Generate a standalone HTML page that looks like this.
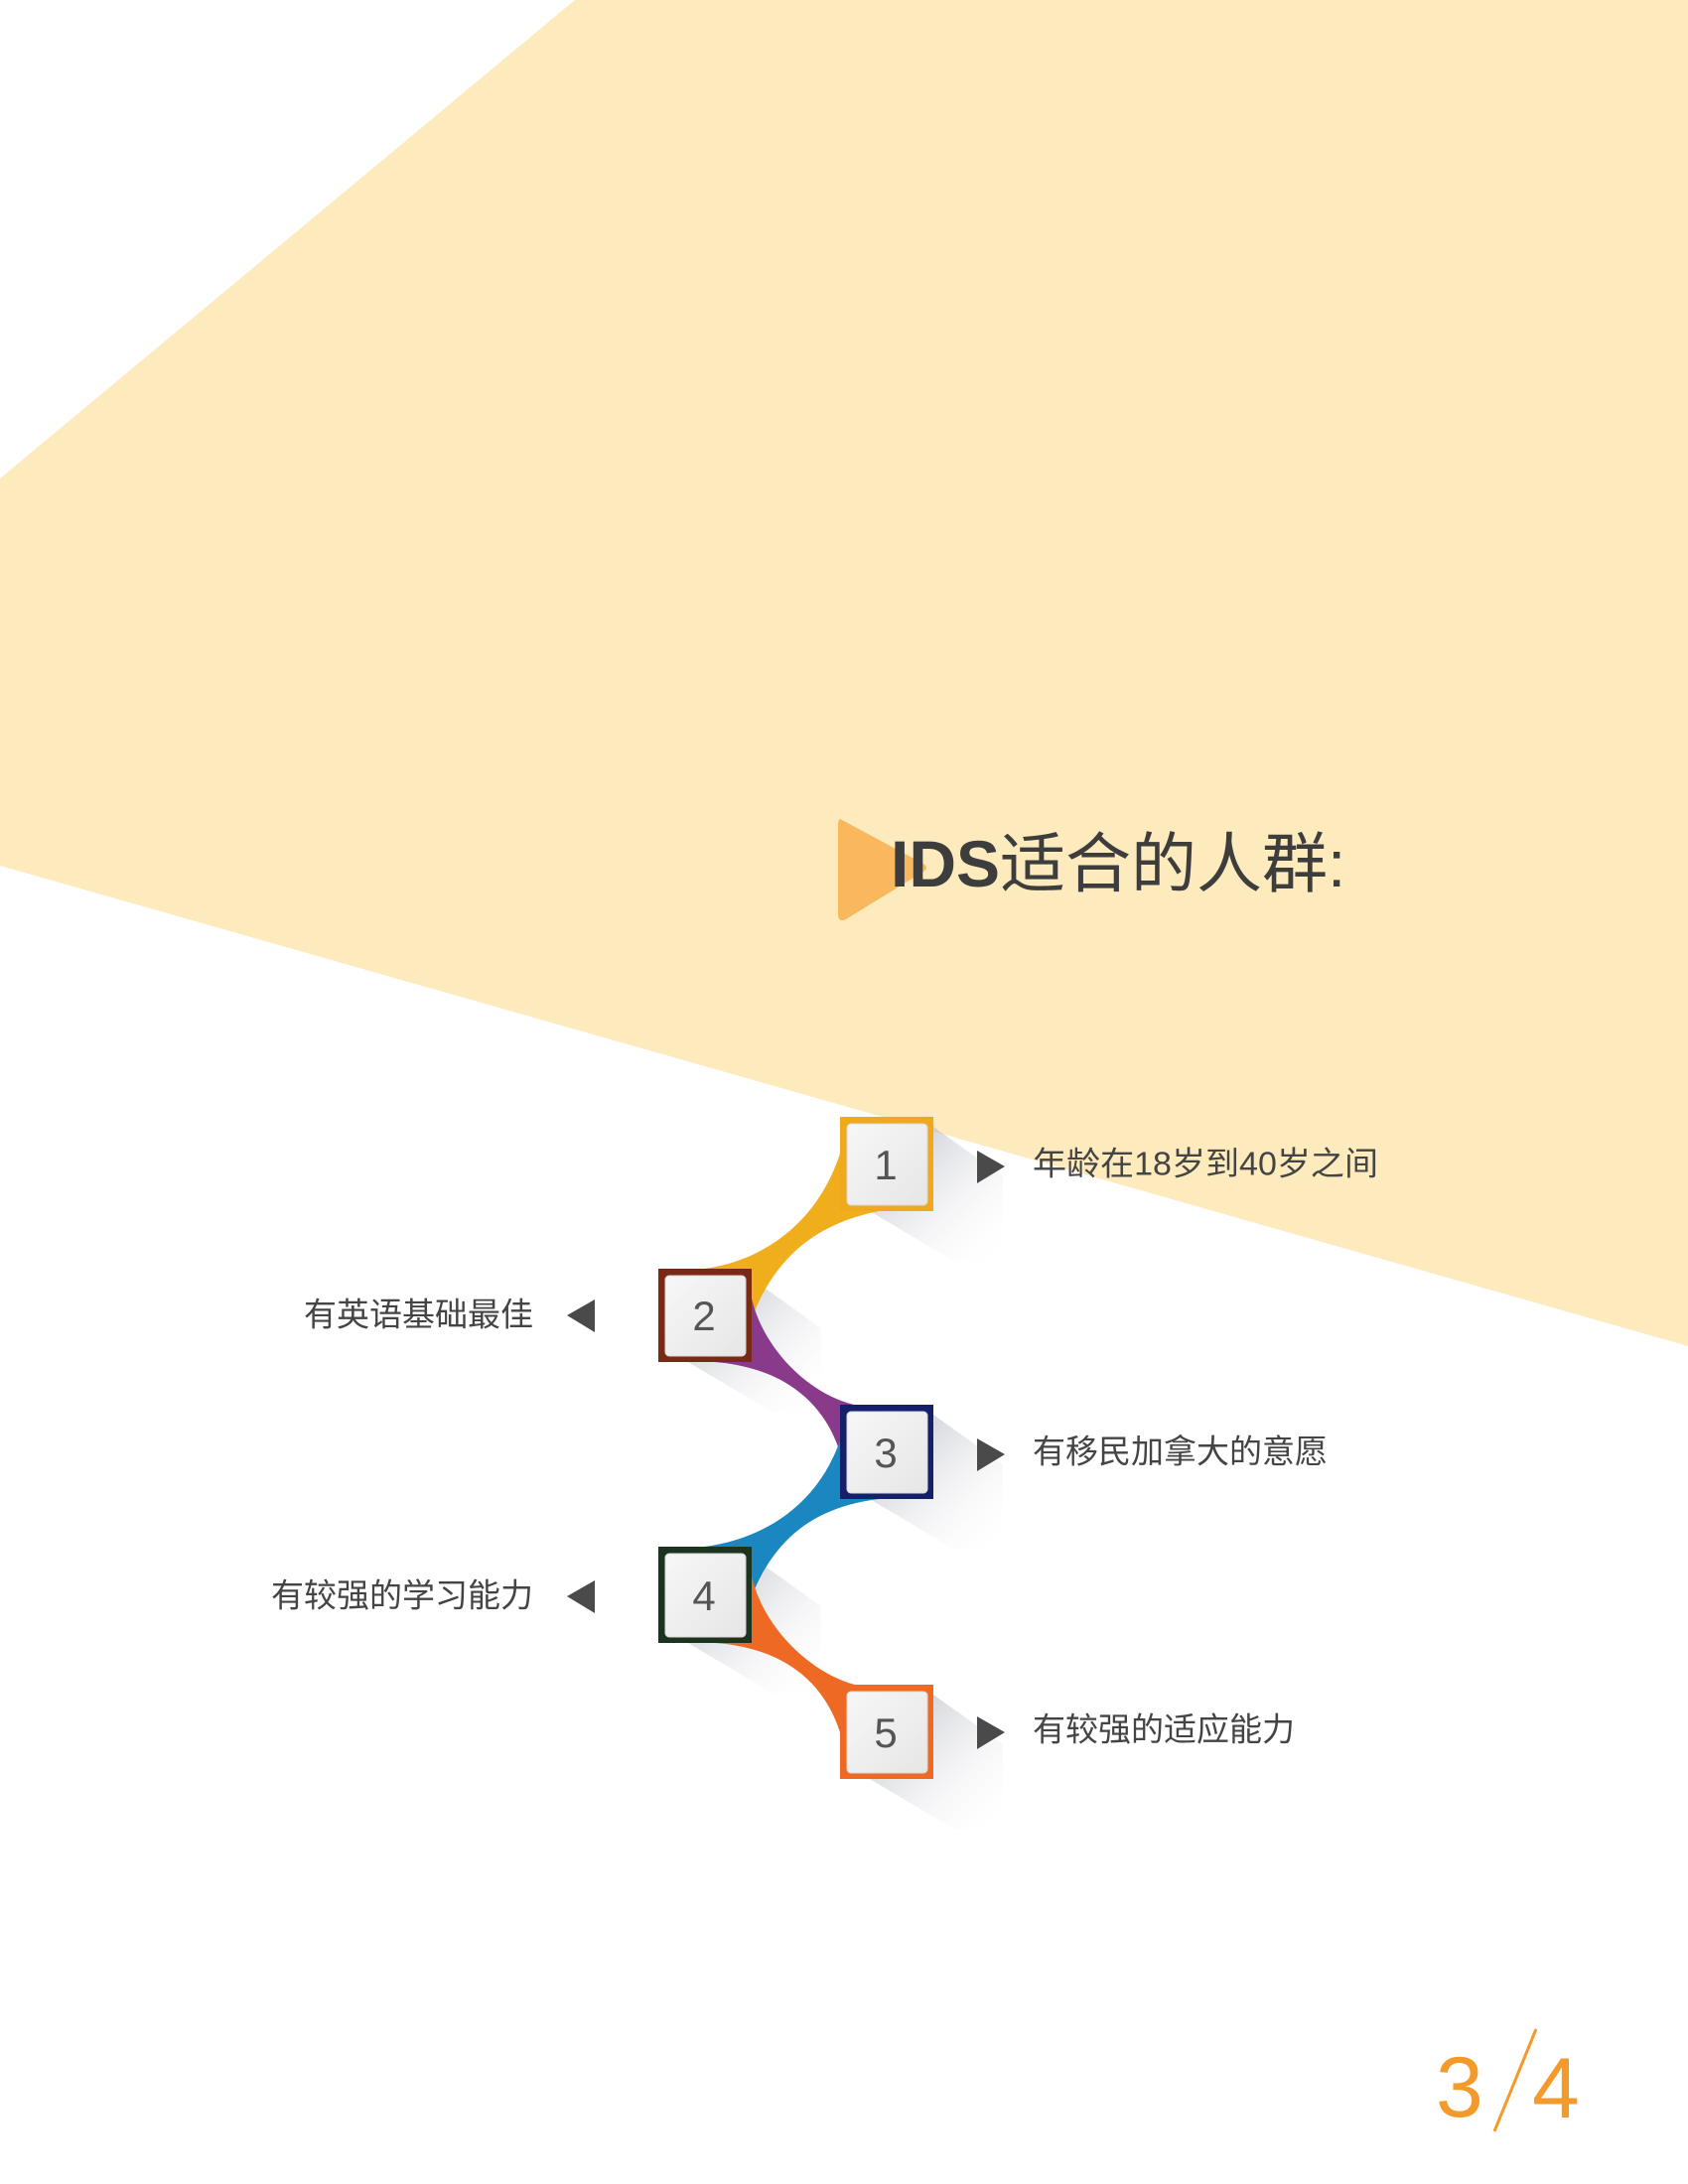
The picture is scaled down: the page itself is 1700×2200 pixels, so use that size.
<!DOCTYPE html>
<html><head><meta charset="utf-8"><style>
html,body{margin:0;padding:0;background:#fff;}
svg{display:block;}
text{font-family:"Liberation Sans","Noto Sans CJK SC",sans-serif;}
</style></head><body>
<svg width="1700" height="2200" viewBox="0 0 1700 2200" xmlns="http://www.w3.org/2000/svg">
<defs>
<linearGradient id="sh" x1="0" y1="0" x2="1" y2="1">
<stop offset="0" stop-color="#9fa2b0" stop-opacity="0.75"/>
<stop offset="1" stop-color="#ffffff" stop-opacity="0"/>
</linearGradient>
<linearGradient id="inn" x1="0" y1="0" x2="1" y2="1">
<stop offset="0" stop-color="#f7f7f7"/>
<stop offset="1" stop-color="#e6e6e6"/>
</linearGradient>
</defs>
<polygon points="579,0 1700,0 1700,1356 0,872 0,482" fill="#fdebbd"/>

<!-- title -->
<path d="M848,826 Q844,823 844,831 L844,920 Q844,930 852,926 L930,878 Q936,874 930,870 Z" fill="#f9b85e"/>
<text x="897" y="893" font-size="66" fill="#3d3d3d" font-weight="bold">IDS<tspan font-weight="normal">适合的人群:</tspan></text>

<g transform="translate(0,-12)">
<!-- shadows -->
<polygon points="940,1147 1010,1197 1010,1282 960,1282 876,1232 940,1232" fill="url(#sh)"/>
<polygon points="757,1300 827,1350 827,1434 777,1434 693,1384 757,1384" fill="url(#sh)"/>
<polygon points="940,1437 1010,1487 1010,1572 960,1572 876,1522 940,1522" fill="url(#sh)"/>
<polygon points="757,1580 827,1630 827,1717 777,1717 693,1667 757,1667" fill="url(#sh)"/>
<polygon points="940,1719 1010,1769 1010,1854 960,1854 876,1804 940,1804" fill="url(#sh)"/>

<!-- connectors -->
<path d="M850,1160 C830,1240 770,1285 700,1291 L757,1291 L757,1340 C780,1280 820,1245 885,1232 L850,1232 Z" fill="#f0ae1d"/>
<path d="M757,1320 C770,1375 820,1420 865,1428 L846,1428 L846,1475 C830,1425 790,1390 720,1384 L757,1384 Z" fill="#8a3a8a"/>
<path d="M850,1450 C830,1525 770,1565 700,1571 L757,1571 L757,1620 C780,1562 820,1530 885,1522 L850,1522 Z" fill="#1b87c0"/>
<path d="M757,1600 C770,1655 820,1700 865,1710 L846,1710 L846,1757 C830,1707 790,1672 720,1667 L757,1667 Z" fill="#ee6a24"/>

<!-- boxes -->
<g font-size="42" fill="#555" text-anchor="middle">
<rect x="846" y="1137" width="94" height="95" fill="#f0a81c"/>
<rect x="853" y="1144" width="81" height="82" rx="4" fill="url(#inn)" stroke="#d8d8d8"/>
<text x="892" y="1200">1</text>
<rect x="663" y="1290" width="94" height="94" fill="#7a2a14"/>
<rect x="670" y="1297" width="81" height="81" rx="4" fill="url(#inn)" stroke="#d8d8d8"/>
<text x="709" y="1352">2</text>
<rect x="846" y="1427" width="94" height="95" fill="#15206a"/>
<rect x="853" y="1434" width="81" height="82" rx="4" fill="url(#inn)" stroke="#d8d8d8"/>
<text x="892" y="1490">3</text>
<rect x="663" y="1570" width="94" height="97" fill="#1c3320"/>
<rect x="670" y="1577" width="81" height="84" rx="4" fill="url(#inn)" stroke="#d8d8d8"/>
<text x="709" y="1634">4</text>
<rect x="846" y="1709" width="94" height="95" fill="#ee6a24"/>
<rect x="853" y="1716" width="81" height="82" rx="4" fill="url(#inn)" stroke="#d8d8d8"/>
<text x="892" y="1772">5</text>
</g>

<!-- arrows -->
<g fill="#4a4a4a">
<polygon points="984,1171 1012,1187 984,1204"/>
<polygon points="984,1461 1012,1477 984,1494"/>
<polygon points="984,1741 1012,1757 984,1774"/>
<polygon points="599,1321 571,1337 599,1354"/>
<polygon points="599,1604 571,1620 599,1637"/>
</g>

<!-- labels -->
<g font-size="33" fill="#444">
<text x="1040" y="1187" dominant-baseline="middle" textLength="348" lengthAdjust="spacingAndGlyphs">年龄在18岁到40岁之间</text>
<text x="1040" y="1477" dominant-baseline="middle">有移民加拿大的意愿</text>
<text x="1040" y="1757" dominant-baseline="middle">有较强的适应能力</text>
<text x="537" y="1339" dominant-baseline="middle" text-anchor="end">有英语基础最佳</text>
<text x="537" y="1622" dominant-baseline="middle" text-anchor="end">有较强的学习能力</text>
</g>
</g>

<!-- page number -->
<g fill="#f39a2a" font-size="86">
<text x="1446" y="2132">3</text>
<line x1="1505" y1="2147" x2="1547" y2="2044" stroke="#f39a2a" stroke-width="3"/>
<text x="1543" y="2133">4</text>
</g>
</svg>
</body></html>
